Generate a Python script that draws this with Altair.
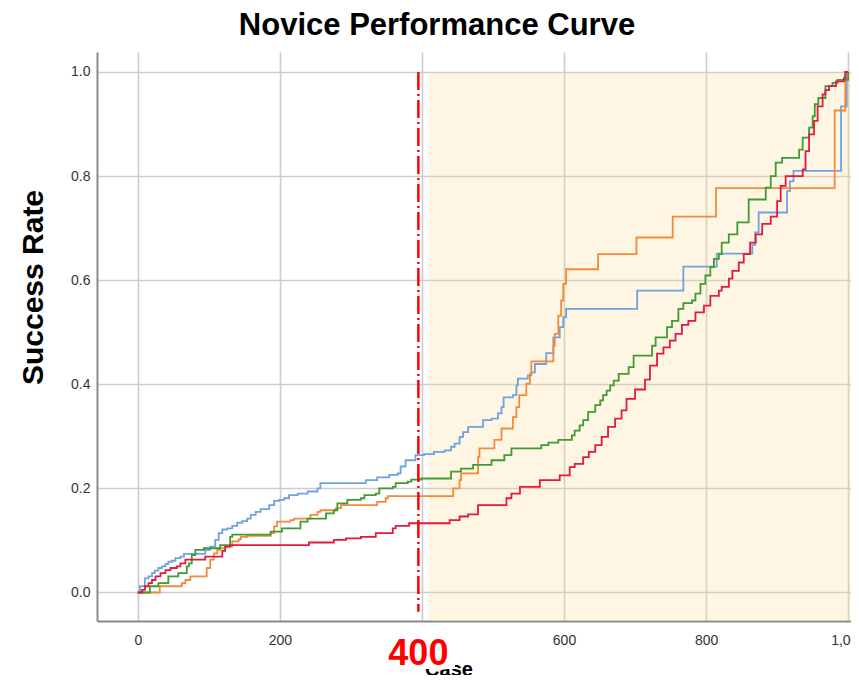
import altair as alt
import pandas as pd

# ---------------- data ----------------
blue_x = [0, 3, 10, 15, 20, 24, 29, 34, 39, 43, 48, 53, 60, 65, 95, 102, 109, 114, 119, 126, 133, 140, 147,
          154, 159, 166, 173, 185, 192, 199, 206, 213, 225, 239, 253, 257, 321, 337, 354, 366, 370, 377, 391,
          403, 417, 432, 441, 446, 453, 458, 465, 486, 498, 507, 512, 515, 528, 533, 535, 549, 554, 559, 575,
          585, 594, 599, 603, 703, 768, 815, 865, 869, 874, 914, 918, 923, 990, 998, 1000]
blue_y = [0, 0.012, 0.027, 0.031, 0.037, 0.042, 0.047, 0.050, 0.055, 0.059, 0.061, 0.066, 0.069, 0.074, 0.082,
          0.088, 0.101, 0.114, 0.121, 0.123, 0.128, 0.134, 0.137, 0.142, 0.149, 0.155, 0.160, 0.168, 0.176,
          0.178, 0.181, 0.187, 0.190, 0.194, 0.200, 0.210, 0.216, 0.221, 0.226, 0.229, 0.242, 0.254, 0.264,
          0.266, 0.270, 0.273, 0.280, 0.286, 0.299, 0.308, 0.318, 0.331, 0.334, 0.344, 0.356, 0.375, 0.379,
          0.398, 0.411, 0.417, 0.423, 0.439, 0.460, 0.490, 0.510, 0.529, 0.545, 0.580, 0.626, 0.651, 0.668,
          0.692, 0.730, 0.771, 0.790, 0.810, 0.934, 1.0, 1.0]

orange_x = [0, 31, 62, 67, 74, 97, 102, 107, 112, 116, 123, 133, 142, 145, 154, 187, 192, 196, 215, 220, 243,
            253, 257, 279, 286, 337, 349, 352, 444, 453, 455, 479, 481, 502, 512, 528, 533, 537, 547, 552, 554,
            585, 587, 592, 596, 599, 603, 648, 702, 753, 814, 981, 996, 1000]
orange_y = [0, 0.012, 0.018, 0.024, 0.031, 0.047, 0.063, 0.075, 0.082, 0.085, 0.088, 0.098, 0.102, 0.107, 0.109,
            0.114, 0.127, 0.136, 0.139, 0.142, 0.149, 0.155, 0.158, 0.162, 0.168, 0.174, 0.181, 0.185, 0.200,
            0.216, 0.229, 0.260, 0.277, 0.293, 0.315, 0.337, 0.356, 0.379, 0.401, 0.420, 0.444, 0.474, 0.497,
            0.532, 0.561, 0.593, 0.621, 0.650, 0.682, 0.722, 0.777, 0.926, 1.0, 1.0]

green_x = [0, 17, 29, 43, 57, 69, 72, 76, 81, 93, 116, 130, 133, 187, 203, 229, 239, 265, 276, 281, 295, 314,
           319, 335, 340, 359, 363, 380, 385, 399, 441, 455, 472, 498, 516, 526, 568, 578, 592, 611, 615, 622,
           627, 634, 644, 651, 655, 660, 665, 670, 677, 691, 698, 724, 729, 745, 752, 761, 768, 780, 785, 792,
           799, 806, 811, 818, 822, 832, 844, 860, 884, 891, 898, 907, 931, 936, 945, 950, 953, 958, 968, 978,
           985, 1000]
green_y = [0, 0.012, 0.018, 0.031, 0.037, 0.050, 0.056, 0.072, 0.082, 0.085, 0.091, 0.107, 0.111, 0.117, 0.123,
           0.136, 0.142, 0.152, 0.158, 0.171, 0.178, 0.181, 0.187, 0.190, 0.200, 0.203, 0.210, 0.213, 0.217,
           0.219, 0.232, 0.238, 0.245, 0.254, 0.264, 0.277, 0.283, 0.288, 0.293, 0.302, 0.311, 0.321, 0.331,
           0.347, 0.360, 0.369, 0.379, 0.388, 0.398, 0.407, 0.420, 0.433, 0.455, 0.474, 0.490, 0.510, 0.522,
           0.545, 0.556, 0.561, 0.574, 0.593, 0.609, 0.625, 0.641, 0.650, 0.672, 0.688, 0.711, 0.755, 0.778,
           0.800, 0.826, 0.835, 0.851, 0.874, 0.893, 0.915, 0.938, 0.950, 0.973, 0.979, 0.985, 1.0]

red_x = [0, 6, 10, 15, 20, 25, 32, 39, 46, 55, 60, 67, 95, 119, 123, 130, 241, 276, 293, 314, 335, 359, 363,
         382, 439, 453, 465, 479, 519, 526, 538, 566, 594, 608, 615, 627, 635, 644, 653, 662, 672, 681, 688,
         700, 714, 721, 731, 740, 749, 757, 766, 775, 785, 797, 806, 818, 822, 832, 837, 846, 853, 862, 870,
         879, 891, 900, 905, 912, 936, 940, 945, 952, 957, 964, 968, 973, 983, 994, 996, 1000]
red_y = [0, 0.005, 0.012, 0.018, 0.024, 0.031, 0.037, 0.043, 0.047, 0.050, 0.056, 0.063, 0.069, 0.080, 0.088,
         0.091, 0.096, 0.101, 0.104, 0.107, 0.114, 0.123, 0.128, 0.133, 0.139, 0.146, 0.150, 0.168, 0.181,
         0.190, 0.203, 0.216, 0.225, 0.241, 0.247, 0.260, 0.270, 0.283, 0.299, 0.318, 0.334, 0.350, 0.372,
         0.390, 0.409, 0.436, 0.459, 0.471, 0.484, 0.497, 0.514, 0.522, 0.538, 0.551, 0.570, 0.580, 0.587,
         0.603, 0.618, 0.634, 0.650, 0.672, 0.688, 0.708, 0.722, 0.752, 0.781, 0.800, 0.813, 0.848, 0.880,
         0.906, 0.934, 0.957, 0.965, 0.973, 0.982, 0.988, 1.0, 1.0]

series_names = ["Novice 1", "Novice 2", "Novice 3", "Novice 4"]
series_colors = ["#6FA3DF", "#F4893C", "#3F9B33", "#E3193F"]
x_ticks = [0, 200, 400, 600, 800, 1000]
y_ticks = [0.0, 0.2, 0.4, 0.6, 0.8, 1.0]
cutoff_case = 395
shade_start = 409

rows = []
for name, xs, ys in zip(series_names, [blue_x, orange_x, green_x, red_x], [blue_y, orange_y, green_y, red_y]):
    for i, (x, y) in enumerate(zip(xs, ys)):
        rows.append({"series": name, "case": x, "rate": y, "order": i})
df = pd.DataFrame(rows)

X_DOMAIN = [-57.4, 1004.0]
Y_DOMAIN = [-0.0548, 1.0384]

xscale = alt.Scale(domain=X_DOMAIN, nice=False, zero=False)
yscale = alt.Scale(domain=Y_DOMAIN, nice=False, zero=False)

xaxis = alt.Axis(title=None, values=x_ticks, grid=True, gridColor="#CDCDCD", gridWidth=1.6,
                 domainColor="#8A8A8A", domainWidth=2, ticks=False, labelFont="Liberation Sans",
                 labelFontSize=14, labelColor="#333333", labelPadding=12)
yaxis = alt.Axis(title="Success Rate", values=y_ticks, format=".1f", grid=True, gridColor="#CDCDCD",
                 gridWidth=1.6, domainColor="#8A8A8A", domainWidth=2, ticks=False,
                 labelFont="Liberation Sans", labelFontSize=14, labelColor="#333333", labelPadding=7,
                 titleFont="Liberation Sans", titleFontSize=30, titleFontWeight="bold", titleColor="black",
                 titleX=-64, titleY=235, titleAlign="center", titleBaseline="middle")

shade_df = pd.DataFrame({"x0": [shade_start], "x1": [X_DOMAIN[1]], "y0": [Y_DOMAIN[0]], "y1": [1.0]})
shade = alt.Chart(shade_df).mark_rect(color="#FBDB8B", opacity=0.25).encode(
    x=alt.X("x0:Q", scale=xscale, axis=xaxis), x2="x1:Q",
    y=alt.Y("y0:Q", scale=yscale, axis=yaxis), y2="y1:Q")

lines = alt.Chart(df).mark_line(interpolate="step-after", strokeWidth=1.8).encode(
    x=alt.X("case:Q", scale=xscale, axis=xaxis),
    y=alt.Y("rate:Q", scale=yscale, axis=yaxis),
    color=alt.Color("series:N", scale=alt.Scale(domain=series_names, range=series_colors), legend=None),
    order="order:Q")

rule = alt.Chart(pd.DataFrame({"c": [cutoff_case], "top": [1.0], "bot": [-0.037]})).mark_rule(
    color="#FF0000", strokeWidth=2.5, strokeDash=[18, 4, 2, 4]).encode(
    x=alt.X("c:Q", scale=xscale, axis=xaxis),
    y=alt.Y("top:Q", scale=yscale, axis=yaxis), y2="bot:Q")

case_text = alt.Chart(pd.DataFrame({"t": ["Case"]})).mark_text(
    font="Liberation Sans", fontSize=20, fontWeight="bold", color="black", baseline="alphabetic",
    align="center").encode(text="t:N", x=alt.value(352), y=alt.value(624))

white_box = alt.Chart(pd.DataFrame({"t": [1]})).mark_rect(color="white").encode(
    x=alt.value(288), x2=alt.value(358), y=alt.value(578), y2=alt.value(617))

label400 = alt.Chart(pd.DataFrame({"c": [cutoff_case], "t": ["400"]})).mark_text(
    font="Liberation Sans", fontSize=36, fontWeight="bold", color="#FF0000", baseline="middle",
    align="center").encode(text="t:N", x=alt.X("c:Q", scale=xscale, axis=xaxis), y=alt.value(602))

chart = alt.layer(shade, lines, rule, case_text, white_box, label400).properties(
    width=754, height=569,
    autosize=alt.AutoSizeParams(type="none"),
    padding={"left": 89, "top": 44, "right": 0, "bottom": 54},
    background="white",
    title=alt.TitleParams("Novice Performance Curve", font="Liberation Sans", fontSize=31,
                          fontWeight="bold", color="black", anchor="middle", dx=-37, offset=10),
).configure_view(stroke="transparent")

chart.save("out.html", embed_options={"renderer": "svg", "actions": False})
